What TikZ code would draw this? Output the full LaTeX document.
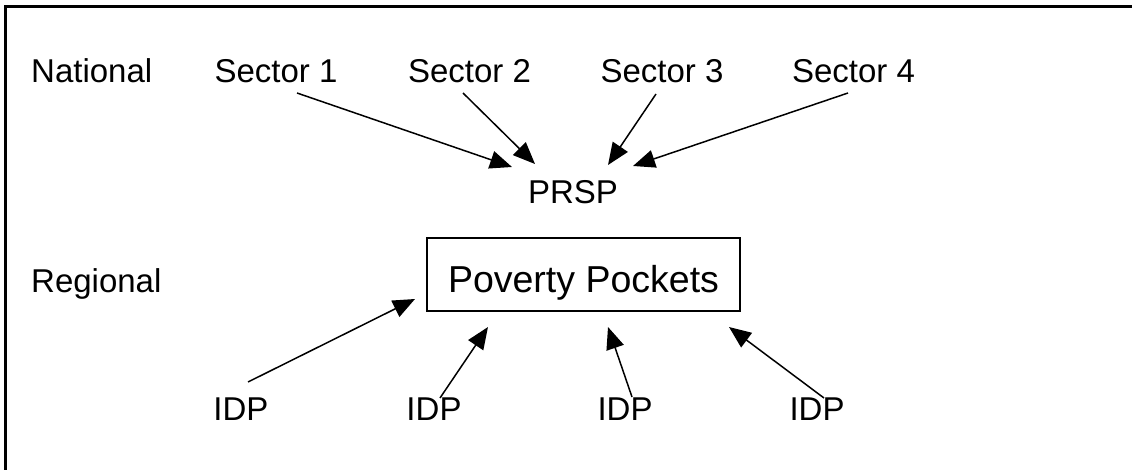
\documentclass[tikz,border=0pt]{standalone}
\usepackage{fontspec}
\setmainfont{Liberation Sans}
\usetikzlibrary{arrows.meta}
\tikzset{
  lbl/.style={inner sep=0pt, font=\fontsize{33}{40}\selectfont, anchor=base},
  conn/.style={line width=1.5pt, -{Triangle[length=22pt,width=18pt]}},
  boxed/.style={draw, line width=2pt, inner sep=0pt, minimum width=313pt,
    text height=55pt, text depth=18pt, anchor=base,
    font=\fontsize{37.5}{44}\selectfont},
  frame/.style={line width=3pt}
}
\begin{document}
\begin{tikzpicture}[x=1pt,y=-1pt]
\useasboundingbox (0,0) rectangle (1132,470);
\coordinate (fb) at (5,472);
\coordinate (fc) at (5,7);
\coordinate (fr) at (1134,7);
\draw[frame] (fb) -- (fc) -- (fr);

\node[lbl, anchor=base west] (nat) at (31,83) {National};
\node[lbl] (s1) at (276,83) {Sector 1};
\node[lbl] (s2) at (469.5,83) {Sector 2};
\node[lbl] (s3) at (662,83) {Sector 3};
\node[lbl] (s4) at (853.5,83) {Sector 4};
\node[lbl] (prsp) at (573,204) {PRSP};
\node[lbl, anchor=base west] (reg) at (31,292) {Regional};
\node[boxed] (pp) at (583.5,293) {Poverty Pockets};
\node[lbl] (i1) at (241,420) {IDP};
\node[lbl] (i2) at (434,420) {IDP};
\node[lbl] (i3) at (625,420) {IDP};
\node[lbl] (i4) at (817,420) {IDP};

\coordinate (s1t) at (297,93);  \coordinate (s1h) at (512,167);
\coordinate (s2t) at (463,93);  \coordinate (s2h) at (535,164);
\coordinate (s3t) at (656,94);  \coordinate (s3h) at (608,165);
\coordinate (s4t) at (848,93);  \coordinate (s4h) at (633,166);
\coordinate (i1t) at (248,382); \coordinate (i1h) at (415,299);
\coordinate (i2t) at (440,398); \coordinate (i2h) at (488,327);
\coordinate (i3t) at (632,397); \coordinate (i3h) at (608,327);
\coordinate (i4t) at (824,398); \coordinate (i4h) at (729,327);

\draw[conn] (s1t) -- (s1h);
\draw[conn] (s2t) -- (s2h);
\draw[conn] (s3t) -- (s3h);
\draw[conn] (s4t) -- (s4h);
\draw[conn] (i1t) -- (i1h);
\draw[conn] (i2t) -- (i2h);
\draw[conn] (i3t) -- (i3h);
\draw[conn] (i4t) -- (i4h);
\end{tikzpicture}
\end{document}
